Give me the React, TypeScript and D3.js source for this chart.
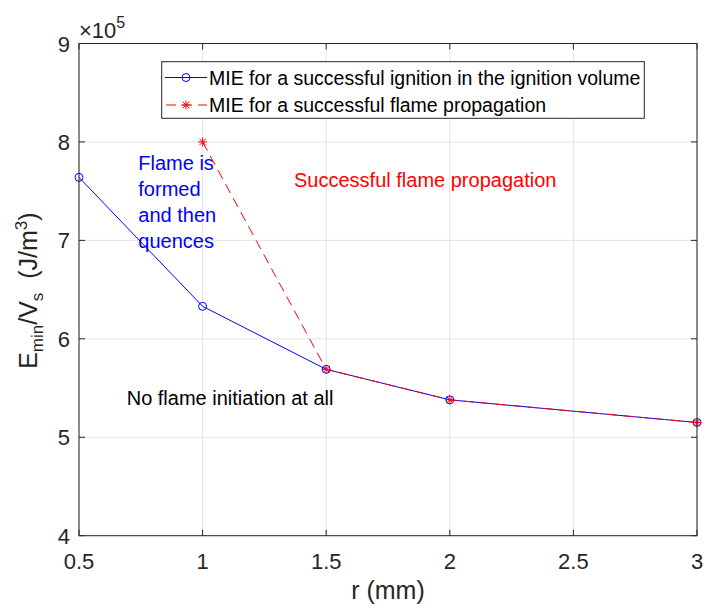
import React from "react";
import * as d3 from "d3";

const rValues = [0.5, 1, 1.5, 2, 3];
const mieIgnition = [7.64, 6.33, 5.69, 5.38, 5.15]; // x10^5 J/m^3
const rFlame = [1, 1.5, 2, 3];
const mieFlame = [8.0, 5.69, 5.38, 5.15]; // x10^5 J/m^3
const xTicks = [0.5, 1, 1.5, 2, 2.5, 3];
const yTicks = [4, 5, 6, 7, 8, 9];
const xTickLabels = ["0.5", "1", "1.5", "2", "2.5", "3"];
const yTickLabels = ["4", "5", "6", "7", "8", "9"];
const legendLabels = [
  "MIE for a successful ignition in the ignition volume",
  "MIE for a successful flame propagation",
];
const flameLines = ["Flame is", "formed", "and then", "quences"];

const W = 705;
const H = 605;
const L = 79, R = 697, T = 43.5, B = 535.7;
const FONT = "'Liberation Sans', Arial, Helvetica, sans-serif";
const AX = "#262626";
const GRID = "#e3e3e3";
const BLUE = "#0000ff";
const RED = "#ff0000";

function Asterisk({ x, y, s = 4.5, color = RED }: { x: number; y: number; s?: number; color?: string }) {
  const d = s * 0.72;
  return (
    <g stroke={color} strokeWidth={1}>
      <line x1={x - s} y1={y} x2={x + s} y2={y} />
      <line x1={x} y1={y - s} x2={x} y2={y + s} />
      <line x1={x - d} y1={y - d} x2={x + d} y2={y + d} />
      <line x1={x - d} y1={y + d} x2={x + d} y2={y - d} />
    </g>
  );
}

export default function App() {
  const x = d3.scaleLinear().domain([0.5, 3]).range([L, R]);
  const y = d3.scaleLinear().domain([4, 9]).range([B, T]);
  const line = d3
    .line<[number, number]>()
    .x((d) => x(d[0]))
    .y((d) => y(d[1]));
  const bluePts: [number, number][] = rValues.map((r, i) => [r, mieIgnition[i]]);
  const redPts: [number, number][] = rFlame.map((r, i) => [r, mieFlame[i]]);
  const tick = 6;

  const legX = 161.7, legY = 61.7, legW = 482.6, legH = 56.6;
  const rows = [77.5, 105];

  return (
    <svg
      width={W}
      height={H}
      style={{ position: "absolute", left: 0, top: 0, background: "#fff" }}
      fontFamily={FONT}
    >
      <rect x={0} y={0} width={W} height={H} fill="#fff" />
      {/* grid */}
      {xTicks.map((t) => (
        <line key={"gx" + t} x1={x(t)} x2={x(t)} y1={T} y2={B} stroke={GRID} strokeWidth={1} />
      ))}
      {yTicks.map((t) => (
        <line key={"gy" + t} x1={L} x2={R} y1={y(t)} y2={y(t)} stroke={GRID} strokeWidth={1} />
      ))}

      {/* annotations */}
      <g fill={BLUE} fontSize={20}>
        {flameLines.map((s, i) => (
          <text key={s} x={138.3} y={170 + i * 26}>
            {s}
          </text>
        ))}
      </g>
      <text x={294} y={187} fill={RED} fontSize={20}>
        Successful flame propagation
      </text>
      <text x={126.7} y={405} fill="#000" fontSize={20}>
        No flame initiation at all
      </text>

      {/* series */}
      <path d={line(bluePts) || ""} fill="none" stroke={BLUE} strokeWidth={1} />
      {bluePts.map((p, i) => (
        <circle key={"bc" + i} cx={x(p[0])} cy={y(p[1])} r={4} fill="none" stroke={BLUE} strokeWidth={1} />
      ))}
      <path d={line(redPts) || ""} fill="none" stroke={RED} strokeWidth={1} strokeDasharray="10,6" />
      {redPts.map((p, i) => (
        <Asterisk key={"ra" + i} x={x(p[0])} y={y(p[1])} />
      ))}

      {/* axes box */}
      <rect x={L} y={T} width={R - L} height={B - T} fill="none" stroke={AX} strokeWidth={1} />
      {xTicks.map((t) => (
        <g key={"tx" + t} stroke={AX}>
          <line x1={x(t)} x2={x(t)} y1={B} y2={B - tick} />
          <line x1={x(t)} x2={x(t)} y1={T} y2={T + tick} />
        </g>
      ))}
      {yTicks.map((t) => (
        <g key={"ty" + t} stroke={AX}>
          <line x1={L} x2={L + tick} y1={y(t)} y2={y(t)} />
          <line x1={R} x2={R - tick} y1={y(t)} y2={y(t)} />
        </g>
      ))}
      {xTicks.map((t, i) => (
        <text key={"lx" + t} x={x(t)} y={568.5} textAnchor="middle" fontSize={22} fill={AX}>
          {xTickLabels[i]}
        </text>
      ))}
      {yTicks.map((t, i) => (
        <text key={"ly" + t} x={70} y={y(t) + 8} textAnchor="end" fontSize={22} fill={AX}>
          {yTickLabels[i]}
        </text>
      ))}

      {/* exponent */}
      <text x={79} y={37.5} fontSize={22} fill={AX}>
        ×10
        <tspan fontSize={16} dy={-10}>
          5
        </tspan>
      </text>

      {/* axis labels */}
      <text x={(L + R) / 2} y={599} textAnchor="middle" fontSize={25} fill={AX}>
        r (mm)
      </text>
      <text
        transform={`translate(37,${(T + B) / 2 + 1}) rotate(-90)`}
        textAnchor="middle"
        fontSize={25}
        fill={AX}
      >
        E
        <tspan fontSize={17} dy={6}>min</tspan>
        <tspan dy={-6}>/V</tspan>
        <tspan fontSize={17} dy={6}>s</tspan>
        <tspan dy={-6}>{"\u00a0\u00a0(J/m"}</tspan>
        <tspan fontSize={17} dy={-10}>3</tspan>
        <tspan dy={10}>)</tspan>
      </text>

      {/* legend */}
      <rect x={legX} y={legY} width={legW} height={legH} fill="#fff" stroke={AX} strokeWidth={1} />
      <line x1={165} x2={207} y1={rows[0]} y2={rows[0]} stroke={BLUE} strokeWidth={1} />
      <circle cx={186} cy={rows[0]} r={4} fill="none" stroke={BLUE} strokeWidth={1} />
      <line x1={165} x2={207} y1={rows[1]} y2={rows[1]} stroke={RED} strokeWidth={1} strokeDasharray="10,6" strokeDashoffset={-1} />
      <Asterisk x={186} y={rows[1]} />
      {legendLabels.map((s, i) => (
        <text key={s} x={209} y={rows[i] + 7} fontSize={19.5} fill="#000">
          {s}
        </text>
      ))}
    </svg>
  );
}
